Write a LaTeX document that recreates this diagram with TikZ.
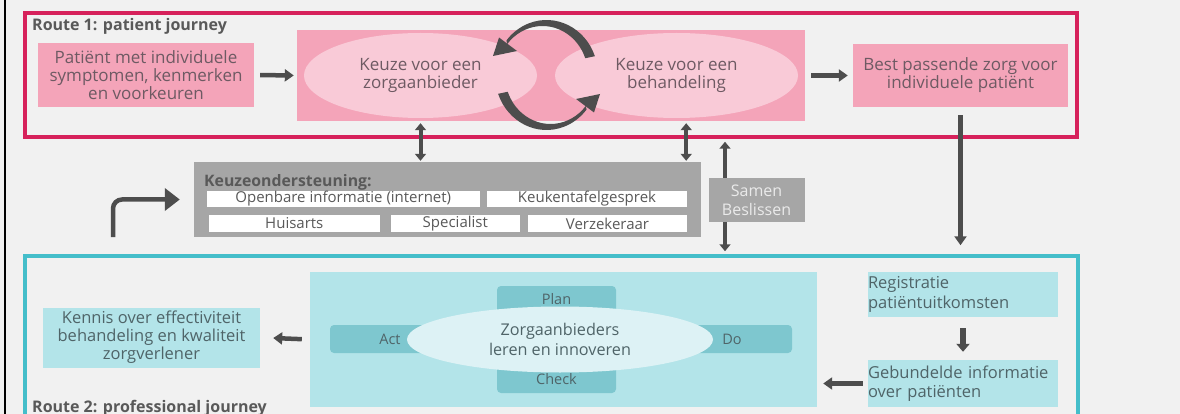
\documentclass[tikz,border=0pt]{standalone}
\usepackage{fontspec}
\setmainfont{Open Sans}
\usetikzlibrary{arrows.meta,shapes.geometric,calc}
\definecolor{bg}{HTML}{F1F1F1}
\definecolor{redf}{HTML}{D6215B}
\definecolor{pinkbox}{HTML}{F4A4B9}
\definecolor{pinkell}{HTML}{F9CAD7}
\definecolor{pinktext}{HTML}{6E5A63}
\definecolor{grayb}{HTML}{A6A6A6}
\definecolor{gtext}{HTML}{595959}
\definecolor{samentext}{HTML}{EAEAEA}
\definecolor{arrowc}{HTML}{4D4D4D}
\definecolor{tealf}{HTML}{45BECA}
\definecolor{tealbox}{HTML}{B3E4E9}
\definecolor{tealdark}{HTML}{7EC7CF}
\definecolor{tealell}{HTML}{DDF2F5}
\definecolor{tealtext}{HTML}{4F6468}
\begin{document}
\begin{tikzpicture}[x=1pt,y=-1pt,
  frame/.style={line width=3.5pt, inner sep=0pt},
  lbl/.style={font=\fontsize{16}{18}\selectfont\bfseries, text=gtext, inner sep=0pt},
  ptext/.style={font=\fontsize{17}{18}\selectfont, text=pinktext, align=center, inner sep=0pt},
  pbox/.style={ptext, fill=pinkbox},
  pell/.style={ptext, ellipse, fill=pinkell},
  wbar/.style={fill=white, inner sep=0pt, font=\fontsize{15}{16}\selectfont, text=gtext},
  ttext/.style={font=\fontsize{16.5}{19.5}\selectfont, text=tealtext, inner sep=0pt},
  tbox/.style={ttext, fill=tealbox},
  dbox/.style={fill=tealdark, rounded corners=4pt, inner sep=0pt, font=\fontsize{14.5}{16}\selectfont, text=tealtext},
  arr/.style={draw=arrowc, line width=4.5pt, -{Triangle[width=12pt,length=9pt]}},
  thickarr/.style={draw=arrowc, line width=6pt, -{Triangle[width=13pt,length=8pt]}},
  bigarr/.style={draw=arrowc, line width=4.5pt, -{Triangle[width=22pt,length=15pt]}},
  darr/.style={draw=arrowc, line width=4pt, {Triangle[width=11pt,length=7pt]}-{Triangle[width=11pt,length=7pt]}},
  circfill/.style={fill=arrowc}
]
\useasboundingbox (0,0) rectangle (1180,414);
\clip (0,0) rectangle (1180,414);
\fill[bg] (0,0) rectangle (1180,414);
\draw[black, line width=2pt] (5,0) -- (5,414);

% Route 1
\node[frame, draw=redf, minimum width=1052, minimum height=124] (route1) at (551,75) {};
\node[lbl, anchor=west] (r1lbl) at (32,26) {Route 1: patient journey};
\node[pbox, minimum width=216, minimum height=64] (pat) at (146,75) {Patiënt met individuele\\symptomen, kenmerken\\en voorkeuren};
\node[fill=pinkbox, inner sep=0pt, minimum width=508, minimum height=91] (keuzebox) at (551,75.5) {};
\node[pell, minimum width=233, minimum height=85] (zorg) at (420.5,75.5) {Keuze voor een\\zorgaanbieder};
\node[pell, minimum width=243, minimum height=85] (beh) at (676.5,75.5) {Keuze voor een\\behandeling};
\node[pbox, minimum width=215, minimum height=63] (best) at (960.5,75.5) {Best passende zorg voor\\individuele patiënt};

% circular arrows (tapered arcs with heads)
\coordinate (cc) at (546.5,75);
\coordinate (cl) at (542.5,75);
\coordinate (cr) at (550.5,75);
\fill[circfill] (cc) ++(-20:51.5 and 55) arc[start angle=-20, end angle=-141, x radius=51.5, y radius=55]
  -- ($(cl)+(-141:45.5 and 49)$) arc[start angle=-141, end angle=-20, x radius=45.5, y radius=49] -- cycle;
\fill[circfill] (493,56) -- (499,37.5) -- (517,51) -- cycle;
\fill[circfill] (cc) ++(160:51.5 and 55) arc[start angle=160, end angle=39, x radius=51.5, y radius=55]
  -- ($(cr)+(39:45.5 and 49)$) arc[start angle=39, end angle=160, x radius=45.5, y radius=49] -- cycle;
\fill[circfill] (600,94) -- (594,112.5) -- (576,99) -- cycle;

\draw[arr, shorten <=6pt, shorten >=3pt] (pat.east) -- (keuzebox.west);
\draw[arr, shorten <=6pt, shorten >=5pt] (keuzebox.east) -- (best.west);

% Route 2 frame
\node[frame, draw=tealf, minimum width=1053, minimum height=190] (route2) at (551.5,351) {};

% middle
\node[fill=grayb, inner sep=0pt, minimum width=507, minimum height=75] (keuz) at (447.5,199.5) {};
\node[lbl, anchor=west, font=\fontsize{15.8}{17}\selectfont\bfseries] (kl) at (204,182) {Keuzeondersteuning:};
\node[wbar, minimum width=273.5, minimum height=16] (b1) at (343.25,199) {Openbare informatie (internet)};
\node[wbar, minimum width=200, minimum height=16] (b2) at (587,199) {Keukentafelgesprek};
\node[wbar, minimum width=171.4, minimum height=17] (b3) at (294.3,223.5) {Huisarts};
\node[wbar, minimum width=128.6, minimum height=17] (b4) at (455.3,223.5) {Specialist};
\node[wbar, minimum width=159, minimum height=17] (b5) at (607.5,223.5) {Verzekeraar};

\coordinate (sa) at (725,200);
\draw[darr, shorten <=3pt, shorten >=3pt] (sa |- route1.south) -- (sa |- route2.north);
\node[fill=grayb, inner sep=0pt, minimum width=96, minimum height=44, align=center, text=samentext, font=\fontsize{16}{19}\selectfont] (samen) at (756.5,200) {Samen\\Beslissen};

\draw[darr, shorten <=2pt, shorten >=1pt] (zorg |- keuzebox.south) -- (zorg |- keuz.north);
\draw[darr, shorten <=2pt, shorten >=1pt] ([xshift=-15pt]keuz.north east |- keuzebox.south) -- ([xshift=-15pt]keuz.north east);

\coordinate (bs) at (113,237);
\draw[bigarr, rounded corners=9pt] (bs) |- ([xshift=-14pt]keuz.west);

\draw[arr, shorten <=8pt, shorten >=9pt] (best.south) -- (best.south |- route2.north);

% Route 2 content
\node[lbl, anchor=west] (r2lbl) at (32,408.5) {Route 2: professional journey};
\node[tbox, align=center, minimum width=217, minimum height=60, font=\fontsize{16.5}{18}\selectfont] (kennis) at (151.5,337.5) {Kennis over effectiviteit\\behandeling en kwaliteit\\zorgverlener};
\node[fill=tealbox, inner sep=0pt, minimum width=507, minimum height=135] (pdca) at (563.5,339.5) {};
\node[dbox, minimum width=119, minimum height=27] (plan) at (556.5,299.5) {Plan};
\node[dbox, minimum width=119, minimum height=27] (check) at (556.5,379.5) {Check};
\node[dbox, minimum width=120, minimum height=28] (act) at (390,339) {Act};
\node[dbox, minimum width=120, minimum height=28] (do) at (732,339) {Do};
\node[ttext, ellipse, fill=tealell, align=center, minimum width=306, minimum height=66, font=\fontsize{16.2}{19.5}\selectfont] (zl) at (560,339.5) {Zorgaanbieders\\leren en innoveren};
\node[tbox, align=left, text width=190, minimum height=45] (reg) at (963,294.5) {Registratie\\patiëntuitkomsten};
\node[tbox, align=left, text width=190, minimum height=47] (geb) at (963,383.5) {Gebundelde informatie\\over patiënten};

\draw[arr, shorten <=8pt, shorten >=13pt] (pdca.west) -- (kennis.east);
\draw[thickarr, shorten <=11pt, shorten >=8pt] (reg.south) -- (geb.north);
\draw[arr, shorten <=5pt, shorten >=6pt] (geb.west) -- (pdca.east |- geb.west);
\end{tikzpicture}
\end{document}
